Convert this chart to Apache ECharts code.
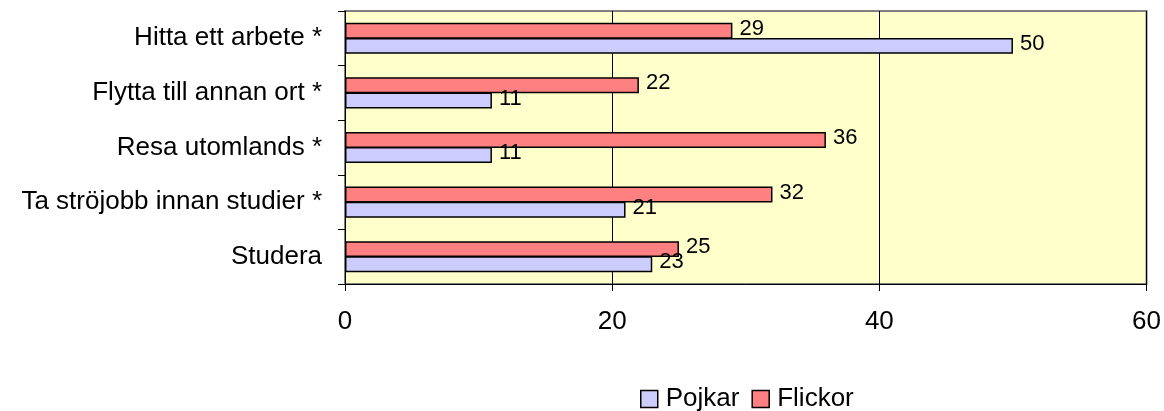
<!DOCTYPE html>
<html>
<head>
<meta charset="utf-8">
<script src="https://cdn.jsdelivr.net/npm/echarts@6/dist/echarts.min.js"></script>
<style>
  html, body { margin: 0; padding: 0; background: #fff; }
  #chart { width: 1164px; height: 411px; }
</style>
</head>
<body>
<div id="chart"></div>
<script>
// categories listed bottom to top
const categories = ['Studera', 'Ta ströjobb innan studier *', 'Resa utomlands *', 'Flytta till annan ort *', 'Hitta ett arbete *'];
const pojkar = [23, 21, 11, 11, 50];
const flickor = [25, 32, 36, 22, 29];
const xTicks = [0, 20, 40, 60];

const font = 'Liberation Sans, Arial, sans-serif';

const chart = echarts.init(document.getElementById('chart'));

const labelStyle = {
    show: true,
    position: 'right',
    distance: 7,
    color: '#000',
    fontSize: 22,
    fontFamily: font,
    offset: [0, -2]
};

chart.setOption({
    animation: false,
    grid: {
        left: 345, top: 11, right: 16, bottom: 127,
        show: true,
        backgroundColor: '#FFFFCC',
        borderColor: '#808080',
        borderWidth: 2
    },
    legend: {
        left: 635,
        top: 381,
        padding: 5,
        itemWidth: 17,
        itemHeight: 17,
        itemGap: 12,
        textStyle: { fontSize: 26, fontFamily: font, color: '#000', padding: [0, 0, 0, 3] },
        data: [
            { name: 'Pojkar', icon: 'rect', itemStyle: { borderColor: '#000', borderWidth: 1.5 } },
            { name: 'Flickor', icon: 'rect', itemStyle: { borderColor: '#000', borderWidth: 1.5 } }
        ]
    },
    xAxis: {
        type: 'value',
        min: xTicks[0],
        max: xTicks[xTicks.length - 1],
        interval: 20,
        axisLine: { show: true, lineStyle: { color: '#000', width: 1 } },
        axisTick: { show: true, length: 7, lineStyle: { color: '#000' } },
        axisLabel: { fontSize: 26, fontFamily: font, color: '#000', margin: 25 },
        splitLine: { show: true, lineStyle: { color: '#000', width: 1 } }
    },
    yAxis: {
        type: 'category',
        data: categories,
        axisLine: { show: true, lineStyle: { color: '#000', width: 1 } },
        axisTick: { show: true, length: 7, lineStyle: { color: '#000' } },
        axisLabel: { fontSize: 26, fontFamily: font, color: '#000', margin: 23 }
    },
    series: [
        {
            name: 'Flickor',
            type: 'bar',
            data: flickor,
            barCategoryGap: '43%',
            barGap: '-5%',
            itemStyle: { color: '#FF8080', borderColor: '#000', borderWidth: 1.5 },
            label: labelStyle
        },
        {
            name: 'Pojkar',
            type: 'bar',
            data: pojkar,
            barCategoryGap: '43%',
            barGap: '-5%',
            itemStyle: { color: '#CCCCFF', borderColor: '#000', borderWidth: 1.5 },
            label: labelStyle
        }
    ]
});
</script>
</body>
</html>
